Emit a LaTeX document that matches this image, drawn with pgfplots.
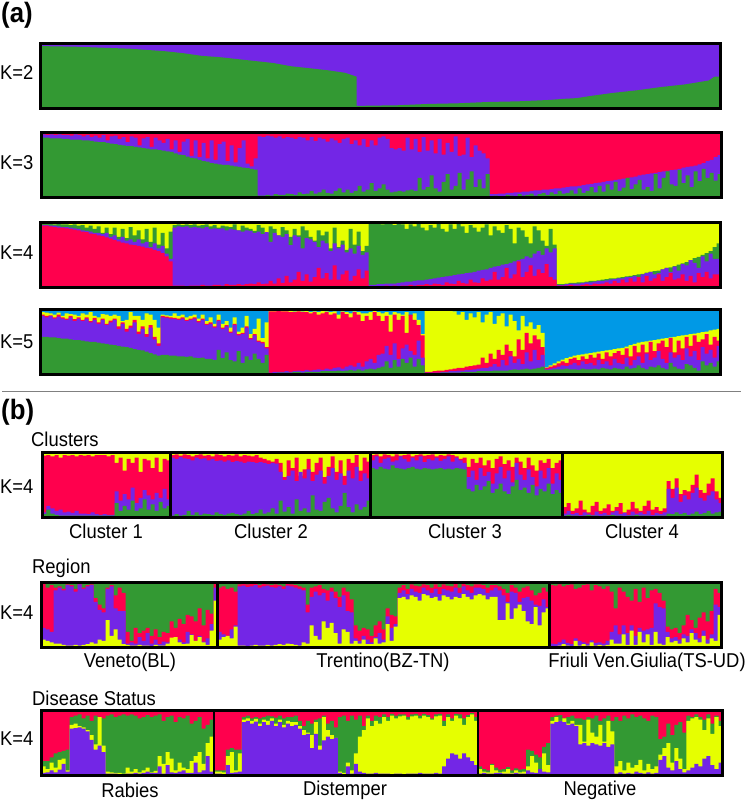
\documentclass[border=0pt]{standalone}
\usepackage{pgfplots}
\usepackage{fontspec}
\setmainfont[FakeStretch=0.92]{Liberation Sans}
\pgfplotsset{compat=1.18}
\definecolor{cg}{RGB}{51,153,51}
\definecolor{cp}{RGB}{115,38,230}
\definecolor{cr}{RGB}{255,0,77}
\definecolor{cy}{RGB}{230,255,0}
\definecolor{cb}{RGB}{0,153,230}
\pgfplotsset{panel/.style={anchor=south west,scale only axis,width=680pt,height=65pt,xmin=0,xmax=170,ymin=0,ymax=100,ticks=none,axis line style={line width=3pt,black},axis on top},
lay/.style={fill=#1,draw=none,const plot,forget plot},
full/.style={fill=#1,draw=none,forget plot},
div/.style={black,line width=2.5pt,forget plot}}
\newcommand\tx[4][center]{\node[inner sep=0pt,anchor=#1] at ({#2},{800-#3}) {\fontsize{20}{22}\selectfont #4};}
\newcommand\bd[3]{\node[inner sep=0pt,anchor=west] at ({#1},{800-#2}) {\fontsize{28}{30}\selectfont\bfseries #3};}
\begin{document}
\begin{tikzpicture}[x=1pt,y=1pt]
\path[use as bounding box] (0,0) rectangle (747,800);
\bd{1}{15}{(a)}
\bd{1}{412}{(b)}
\tx[west]{0}{73}{K=2}
\tx[west]{0}{163}{K=3}
\tx[west]{0}{253}{K=4}
\tx[west]{0}{342}{K=5}
\tx[west]{0}{487}{K=4}
\tx[west]{0}{613}{K=4}
\tx[west]{0}{739}{K=4}
\tx[west]{31}{439}{Clusters}
\tx[west]{32}{568}{Region}
\tx[west]{32}{698}{Disease Status}
\tx{106}{531}{Cluster 1}
\tx{271}{531}{Cluster 2}
\tx{465}{531}{Cluster 3}
\tx{642}{531}{Cluster 4}
\tx{130}{662}{Veneto(BL)}
\tx{383}{662}{Trentino(BZ-TN)}
\tx{647}{662}{Friuli Ven.Giulia(TS-UD)}
\tx{130}{790}{Rabies}
\tx{345}{790}{Distemper}
\tx{600}{790}{Negative}
\draw[gray,line width=1pt] (2,408.5) -- (741,408.5);
% K=2
\begin{axis}[panel,xmax=114,at={(40.5pt,691.5pt)}]
\addplot[full=cp] coordinates {(0,100)(114,100)} \closedcycle;
\addplot[full=cg] coordinates {(0,96)(3,95.5)(6,95)(9,94)(12,93)(15,92)(18,90)(21,88)(24,85)(27,81)(30,79)(33,76)(36,73)(39,70)(42,65)(45,62)(48,59)(51,55)(53,49)(53,4)(60,5)(65,7)(70,8)(75,10)(80,11)(85,13)(88,15)(90,16)(92,19)(96,24)(100,28)(104,33)(108,37)(110,40)(112,43)(113,49)(114,49)} \closedcycle;
\end{axis}
% K=3
\begin{axis}[panel,at={(41.5pt,602.5pt)}]
\addplot[full=cr] coordinates {(0,100)(170,100)} \closedcycle;
\addplot[lay=cp] table[row sep=crcr,x expr=\coordindex,y index=0]{
97\\96\\97\\96\\97\\96\\96\\95\\97\\96\\94\\96\\93\\95\\92\\96\\88\\94\\95\\90\\93\\85\\94\\92\\80\\91\\93\\78\\92\\88\\84\\90\\74\\88\\70\\86\\90\\64\\88\\62\\84\\60\\88\\58\\82\\86\\56\\80\\54\\76\\88\\52\\48\\60\\
94\\93\\95\\94\\92\\94\\91\\93\\92\\90\\93\\92\\88\\93\\87\\92\\90\\86\\91\\88\\84\\90\\92\\82\\88\\80\\90\\78\\88\\80\\92\\94\\90\\
76\\74\\76\\72\\92\\74\\90\\70\\93\\72\\88\\68\\90\\66\\84\\70\\94\\64\\66\\92\\62\\80\\72\\68\\60\\
5\\5\\6\\6\\7\\7\\8\\8\\9\\9\\10\\11\\11\\12\\12\\13\\14\\14\\15\\16\\17\\17\\18\\19\\20\\21\\22\\23\\24\\25\\26\\27\\28\\29\\30\\31\\32\\34\\35\\36\\37\\38\\39\\40\\41\\42\\43\\44\\46\\47\\48\\49\\51\\53\\56\\58\\62\\65\\65\\
} \closedcycle;
\addplot[lay=cg] table[row sep=crcr,x expr=\coordindex,y index=0]{
92\\92\\91\\91\\91\\90\\90\\89\\89\\89\\88\\88\\87\\86\\85\\85\\84\\83\\82\\81\\80\\79\\79\\78\\77\\76\\75\\74\\74\\73\\72\\71\\70\\68\\66\\65\\63\\61\\60\\58\\56\\55\\53\\52\\51\\50\\50\\49\\48\\47\\46\\45\\44\\43\\
3\\3\\4\\3\\5\\4\\4\\6\\5\\4\\8\\5\\6\\10\\6\\8\\12\\7\\6\\10\\14\\8\\12\\7\\10\\18\\9\\12\\22\\10\\14\\20\\12\\
8\\9\\10\\9\\11\\12\\10\\30\\12\\16\\34\\14\\9\\24\\36\\12\\18\\38\\12\\28\\40\\16\\28\\14\\36\\
2\\3\\2\\2\\4\\3\\2\\5\\3\\4\\6\\3\\5\\7\\4\\8\\5\\10\\6\\7\\11\\6\\14\\7\\10\\16\\8\\18\\9\\20\\12\\24\\10\\15\\30\\13\\20\\27\\12\\16\\10\\36\\14\\30\\40\\20\\18\\42\\22\\34\\16\\40\\25\\44\\30\\38\\26\\36\\36\\
} \closedcycle;
\end{axis}
% K=4
\begin{axis}[panel,at={(40.5pt,512.5pt)}]
\addplot[full=cy] coordinates {(0,100)(170,100)} \closedcycle;
\addplot[lay=cg] table[row sep=crcr,x expr=\coordindex,y index=0]{
98\\98\\98\\97\\98\\97\\97\\96\\97\\95\\96\\92\\95\\90\\94\\84\\92\\82\\92\\78\\90\\76\\93\\80\\88\\74\\90\\70\\92\\66\\84\\60\\86\\
96\\97\\96\\97\\96\\97\\95\\96\\97\\94\\96\\92\\95\\94\\93\\97\\88\\95\\92\\90\\87\\96\\92\\84\\94\\90\\80\\93\\88\\78\\90\\80\\94\\88\\78\\72\\88\\80\\86\\60\\92\\62\\72\\58\\90\\66\\86\\56\\64\\
99\\98\\99\\97\\99\\98\\96\\98\\97\\90\\97\\94\\98\\92\\88\\96\\92\\98\\90\\86\\97\\90\\98\\94\\84\\96\\92\\86\\92\\97\\80\\94\\88\\84\\96\\90\\68\\92\\88\\78\\68\\94\\88\\72\\64\\90\\66\\
5\\5\\6\\7\\7\\8\\8\\9\\10\\10\\11\\12\\13\\14\\14\\15\\16\\17\\18\\19\\20\\21\\23\\24\\25\\26\\28\\30\\31\\33\\35\\37\\39\\42\\45\\47\\50\\53\\56\\62\\68\\68\\
} \closedcycle;
\addplot[lay=cp] table[row sep=crcr,x expr=\coordindex,y index=0]{
96\\96\\95\\95\\94\\93\\93\\92\\91\\90\\88\\87\\86\\84\\84\\82\\84\\78\\80\\74\\78\\72\\74\\70\\74\\68\\70\\62\\68\\60\\64\\52\\44\\
92\\94\\93\\94\\92\\93\\92\\91\\93\\90\\91\\90\\91\\88\\90\\89\\88\\86\\88\\87\\84\\86\\82\\85\\70\\84\\80\\78\\82\\65\\80\\78\\60\\76\\74\\70\\62\\72\\68\\56\\68\\60\\66\\54\\60\\52\\64\\50\\54\\
4\\4\\5\\5\\6\\6\\6\\7\\8\\9\\9\\10\\11\\11\\12\\13\\14\\15\\16\\17\\18\\19\\20\\21\\22\\23\\24\\26\\27\\28\\30\\32\\33\\35\\36\\38\\40\\42\\44\\48\\46\\52\\56\\50\\60\\54\\60\\
4\\4\\5\\6\\6\\6\\7\\8\\8\\9\\10\\10\\11\\12\\13\\14\\14\\16\\16\\18\\16\\20\\22\\24\\20\\22\\28\\30\\24\\32\\26\\36\\34\\42\\38\\30\\48\\40\\52\\44\\44\\44\\
} \closedcycle;
\addplot[lay=cr] table[row sep=crcr,x expr=\coordindex,y index=0]{
95\\95\\94\\93\\92\\92\\91\\90\\89\\88\\86\\85\\83\\82\\80\\79\\77\\75\\73\\71\\69\\68\\66\\65\\64\\63\\61\\60\\58\\56\\53\\48\\40\\
3\\3\\3\\2\\3\\3\\3\\4\\3\\3\\4\\4\\3\\5\\4\\4\\5\\4\\5\\6\\5\\8\\5\\6\\10\\6\\14\\7\\18\\8\\12\\24\\10\\20\\9\\16\\30\\14\\22\\12\\34\\12\\20\\26\\10\\18\\28\\14\\26\\
2\\2\\2\\2\\3\\2\\3\\2\\3\\3\\4\\3\\4\\4\\5\\4\\6\\5\\4\\8\\6\\5\\10\\7\\6\\12\\8\\7\\14\\10\\12\\24\\12\\16\\30\\14\\20\\40\\16\\24\\34\\18\\28\\22\\36\\16\\12\\
3\\3\\3\\4\\3\\3\\4\\5\\4\\6\\5\\6\\8\\6\\10\\7\\12\\8\\14\\9\\16\\8\\18\\10\\14\\20\\10\\16\\22\\12\\14\\20\\10\\18\\8\\22\\16\\24\\14\\20\\20\\20\\
} \closedcycle;
\end{axis}
% K=5
\begin{axis}[panel,at={(40.5pt,425.5pt)}]
\addplot[full=cb] coordinates {(0,100)(170,100)} \closedcycle;
\addplot[lay=cy] table[row sep=crcr,x expr=\coordindex,y index=0]{
96\\95\\94\\92\\95\\90\\94\\93\\92\\90\\94\\92\\96\\90\\88\\93\\92\\90\\92\\90\\82\\84\\96\\90\\90\\84\\94\\92\\84\\72\\
92\\91\\90\\94\\90\\92\\88\\90\\92\\86\\92\\82\\88\\78\\92\\78\\82\\72\\88\\66\\72\\90\\62\\70\\86\\56\\80\\
98\\98\\99\\98\\98\\98\\97\\98\\97\\98\\96\\97\\96\\98\\97\\96\\97\\92\\97\\96\\94\\97\\96\\94\\94\\96\\98\\96\\94\\96\\92\\96\\94\\92\\96\\90\\94\\84\\62\\
98\\99\\98\\99\\98\\99\\98\\97\\92\\96\\84\\94\\88\\96\\80\\92\\96\\78\\90\\94\\74\\92\\82\\68\\90\\74\\80\\70\\76\\64\\
11\\14\\17\\20\\23\\25\\27\\29\\30\\31\\32\\33\\34\\35\\36\\37\\38\\39\\40\\41\\43\\45\\47\\49\\50\\51\\52\\53\\54\\55\\56\\57\\58\\59\\60\\61\\62\\63\\64\\65\\66\\68\\69\\70\\70\\
} \closedcycle;
\addplot[lay=cr] table[row sep=crcr,x expr=\coordindex,y index=0]{
92\\90\\91\\88\\92\\88\\86\\90\\85\\88\\84\\88\\82\\87\\80\\86\\78\\83\\86\\74\\80\\70\\75\\84\\66\\74\\62\\76\\58\\48\\
90\\89\\88\\87\\86\\88\\84\\86\\88\\82\\86\\78\\80\\74\\84\\72\\76\\66\\78\\62\\64\\74\\56\\62\\52\\50\\42\\
97\\97\\98\\97\\97\\96\\96\\97\\96\\96\\94\\96\\92\\94\\96\\92\\94\\86\\96\\93\\88\\96\\92\\82\\90\\84\\96\\90\\82\\90\\66\\92\\84\\90\\64\\92\\84\\76\\60\\
4\\4\\5\\6\\6\\7\\8\\9\\10\\10\\12\\13\\14\\15\\26\\18\\32\\24\\38\\30\\46\\36\\28\\54\\38\\64\\48\\60\\54\\42\\
10\\12\\14\\17\\20\\18\\24\\26\\22\\28\\24\\30\\26\\32\\24\\34\\28\\33\\36\\30\\40\\28\\44\\34\\46\\34\\50\\36\\48\\52\\42\\56\\34\\52\\40\\58\\44\\60\\50\\54\\62\\46\\58\\52\\52\\
} \closedcycle;
\addplot[lay=cp] table[row sep=crcr,x expr=\coordindex,y index=0]{
90\\88\\90\\86\\89\\86\\84\\88\\82\\86\\82\\86\\80\\84\\78\\84\\76\\80\\84\\70\\78\\66\\72\\80\\62\\70\\58\\72\\54\\44\\
88\\87\\86\\85\\84\\86\\82\\84\\86\\80\\84\\76\\78\\72\\82\\70\\74\\64\\76\\60\\62\\72\\54\\60\\50\\48\\40\\
3\\4\\4\\4\\5\\4\\5\\6\\5\\7\\6\\7\\8\\7\\9\\8\\10\\11\\9\\12\\14\\12\\18\\12\\20\\24\\18\\30\\32\\44\\30\\48\\24\\40\\46\\36\\30\\52\\26\\
3\\3\\3\\3\\4\\4\\5\\5\\6\\6\\7\\7\\8\\9\\10\\10\\12\\16\\12\\22\\14\\28\\18\\24\\16\\34\\20\\38\\22\\30\\
8\\9\\10\\12\\14\\13\\15\\18\\14\\20\\16\\18\\14\\22\\16\\20\\14\\24\\18\\16\\26\\14\\22\\28\\18\\32\\22\\26\\36\\24\\18\\34\\26\\30\\22\\40\\28\\36\\22\\42\\32\\38\\26\\44\\44\\
} \closedcycle;
\addplot[lay=cg] table[row sep=crcr,x expr=\coordindex,y index=0]{
58\\58\\57\\57\\56\\55\\55\\54\\53\\53\\52\\51\\50\\50\\49\\48\\47\\46\\45\\44\\43\\42\\41\\39\\38\\37\\35\\33\\31\\29\\
30\\30\\29\\29\\28\\28\\27\\28\\26\\25\\26\\24\\24\\22\\38\\25\\34\\22\\20\\36\\18\\28\\22\\32\\24\\18\\30\\
2\\2\\3\\3\\3\\3\\4\\4\\3\\4\\4\\4\\4\\5\\5\\5\\5\\6\\5\\6\\7\\6\\8\\6\\8\\9\\8\\10\\12\\20\\10\\22\\12\\24\\18\\26\\12\\24\\14\\
2\\2\\2\\2\\3\\3\\3\\3\\3\\4\\4\\4\\4\\5\\5\\5\\5\\6\\6\\6\\6\\7\\8\\7\\8\\9\\8\\9\\10\\12\\
7\\7\\8\\8\\8\\9\\8\\8\\7\\9\\8\\8\\9\\8\\10\\9\\8\\10\\9\\8\\12\\9\\10\\14\\10\\8\\12\\11\\14\\10\\8\\18\\12\\9\\8\\16\\14\\10\\6\\20\\14\\18\\12\\20\\20\\
} \closedcycle;
\end{axis}
% Clusters
\begin{axis}[panel,at={(42.5pt,282.5pt)}]
\addplot[full=cy] coordinates {(0,100)(170,100)} \closedcycle;
\addplot[lay=cr] table[row sep=crcr,x expr=\coordindex,y index=0]{
95\\96\\94\\96\\92\\96\\95\\96\\94\\96\\95\\96\\94\\96\\96\\96\\94\\96\\84\\92\\72\\90\\84\\92\\70\\90\\88\\76\\92\\70\\90\\88\\
96\\97\\95\\97\\96\\94\\96\\97\\95\\96\\94\\97\\96\\94\\96\\95\\97\\94\\96\\95\\94\\96\\92\\90\\88\\86\\90\\84\\62\\88\\76\\92\\64\\74\\90\\70\\84\\92\\62\\78\\94\\70\\88\\64\\90\\84\\96\\72\\92\\86\\
96\\97\\94\\97\\96\\94\\97\\95\\96\\97\\94\\96\\97\\95\\96\\97\\94\\96\\95\\97\\96\\94\\90\\92\\78\\90\\84\\92\\80\\88\\76\\90\\94\\82\\88\\78\\92\\86\\76\\92\\80\\72\\88\\84\\90\\76\\84\\88\\
16\\22\\10\\14\\26\\12\\8\\18\\24\\10\\14\\20\\10\\16\\22\\8\\12\\24\\14\\10\\18\\26\\12\\16\\10\\14\\56\\44\\60\\36\\42\\40\\50\\66\\42\\38\\52\\60\\40\\30\\30\\
} \closedcycle;
\addplot[lay=cp] table[row sep=crcr,x expr=\coordindex,y index=0]{
8\\18\\14\\10\\12\\8\\9\\7\\10\\6\\6\\5\\8\\5\\4\\5\\4\\4\\40\\26\\36\\28\\46\\22\\30\\42\\34\\28\\38\\30\\44\\28\\
92\\90\\93\\91\\90\\88\\92\\90\\91\\88\\90\\87\\88\\86\\88\\85\\87\\86\\84\\86\\85\\84\\85\\84\\82\\84\\83\\70\\58\\64\\72\\56\\70\\60\\74\\56\\66\\72\\52\\64\\76\\58\\68\\50\\72\\60\\78\\56\\68\\60\\
88\\94\\84\\90\\92\\86\\88\\94\\90\\86\\92\\88\\94\\85\\90\\88\\92\\87\\90\\94\\86\\92\\88\\84\\62\\72\\58\\76\\64\\70\\52\\68\\78\\60\\72\\54\\84\\66\\58\\74\\62\\48\\72\\60\\76\\52\\68\\58\\
6\\10\\5\\7\\4\\8\\6\\4\\9\\5\\7\\4\\8\\10\\5\\7\\4\\9\\6\\8\\5\\10\\4\\7\\5\\8\\44\\30\\46\\24\\34\\28\\38\\46\\30\\26\\34\\40\\28\\22\\22\\
} \closedcycle;
\addplot[lay=cg] table[row sep=crcr,x expr=\coordindex,y index=0]{
5\\12\\6\\4\\3\\3\\3\\3\\3\\3\\3\\3\\3\\3\\3\\3\\3\\3\\22\\10\\18\\12\\26\\10\\14\\28\\12\\20\\10\\24\\14\\18\\
3\\5\\3\\4\\10\\4\\8\\4\\6\\5\\4\\8\\5\\4\\6\\7\\5\\4\\6\\10\\5\\7\\12\\6\\8\\14\\6\\26\\9\\16\\6\\28\\10\\14\\8\\34\\12\\10\\24\\30\\14\\8\\18\\38\\16\\8\\20\\12\\16\\26\\
76\\74\\78\\75\\74\\80\\76\\75\\74\\76\\78\\75\\74\\76\\75\\74\\75\\76\\74\\75\\74\\76\\75\\74\\44\\40\\50\\42\\48\\56\\38\\44\\52\\40\\36\\48\\58\\42\\46\\38\\50\\34\\44\\40\\52\\36\\42\\38\\
3\\4\\3\\3\\2\\3\\4\\3\\3\\2\\3\\3\\4\\3\\3\\2\\3\\3\\4\\3\\3\\3\\2\\3\\3\\3\\6\\5\\8\\5\\7\\4\\6\\9\\5\\7\\10\\6\\8\\9\\9\\
} \closedcycle;
\addplot[div] coordinates {(32,0)(32,100)};
\addplot[div] coordinates {(82,0)(82,100)};
\addplot[div] coordinates {(130,0)(130,100)};
\end{axis}
% Region
\begin{axis}[panel,at={(41.5pt,152.5pt)}]
\addplot[full=cg] coordinates {(0,100)(170,100)} \closedcycle;
\addplot[lay=cr] table[row sep=crcr,x expr=\coordindex,y index=0]{
98\\92\\96\\92\\94\\90\\97\\96\\90\\98\\92\\96\\97\\76\\66\\60\\92\\96\\80\\92\\84\\24\\10\\30\\22\\26\\30\\18\\28\\16\\24\\22\\40\\30\\44\\36\\50\\48\\40\\60\\34\\58\\52\\98\\
92\\94\\90\\92\\86\\
97\\98\\97\\98\\98\\96\\98\\97\\96\\97\\96\\94\\98\\97\\96\\94\\92\\66\\92\\94\\96\\90\\88\\92\\86\\78\\92\\86\\74\\
34\\26\\30\\28\\18\\34\\40\\28\\60\\50\\48\\
92\\96\\90\\97\\95\\94\\97\\96\\92\\97\\93\\97\\95\\94\\98\\92\\98\\96\\94\\97\\97\\96\\92\\96\\96\\
94\\90\\84\\96\\92\\86\\92\\94\\88\\80\\84\\92\\86\\
96\\95\\97\\94\\96\\97\\90\\92\\96\\97\\88\\96\\94\\90\\94\\86\\60\\
92\\86\\78\\72\\90\\70\\92\\76\\88\\90\\84\\72\\
32\\28\\30\\22\\34\\50\\42\\30\\46\\54\\40\\56\\90\\84\\84\\
} \closedcycle;
\addplot[lay=cp] table[row sep=crcr,x expr=\coordindex,y index=0]{
30\\28\\24\\88\\92\\88\\96\\94\\86\\97\\90\\94\\96\\70\\58\\54\\90\\94\\60\\56\\56\\6\\8\\6\\16\\10\\22\\6\\12\\5\\9\\8\\10\\7\\12\\8\\24\\20\\10\\18\\9\\14\\36\\92\\
24\\20\\18\\28\\34\\
94\\95\\93\\94\\96\\92\\94\\95\\93\\92\\94\\90\\95\\94\\92\\90\\88\\54\\78\\86\\80\\84\\72\\86\\76\\62\\80\\56\\54\\
14\\10\\18\\12\\8\\16\\22\\12\\48\\30\\36\\
84\\88\\82\\90\\86\\84\\92\\88\\84\\90\\82\\90\\88\\86\\92\\84\\94\\88\\84\\92\\92\\90\\84\\88\\92\\
88\\80\\70\\86\\84\\70\\76\\78\\72\\66\\64\\74\\62\\
6\\5\\8\\12\\7\\5\\14\\10\\8\\6\\11\\7\\8\\6\\10\\24\\34\\
20\\34\\22\\34\\18\\30\\26\\28\\30\\68\\62\\60\\
24\\14\\16\\12\\20\\18\\28\\22\\14\\26\\12\\20\\66\\62\\62\\
} \closedcycle;
\addplot[lay=cy] table[row sep=crcr,x expr=\coordindex,y index=0]{
12\\10\\8\\6\\6\\4\\3\\3\\4\\3\\4\\5\\8\\6\\12\\10\\42\\18\\28\\12\\5\\4\\3\\3\\4\\3\\3\\2\\4\\3\\3\\6\\15\\16\\8\\5\\6\\19\\10\\16\\8\\4\\26\\72\\
12\\16\\18\\14\\32\\
3\\3\\2\\3\\4\\3\\3\\4\\3\\4\\5\\4\\6\\5\\4\\3\\8\\6\\34\\18\\12\\40\\30\\38\\22\\6\\28\\24\\6\\
10\\6\\12\\5\\5\\14\\6\\8\\36\\10\\32\\
76\\78\\74\\80\\78\\72\\82\\80\\76\\78\\72\\80\\78\\74\\78\\76\\82\\78\\74\\80\\82\\80\\74\\78\\78\\
42\\42\\68\\44\\60\\66\\56\\40\\36\\62\\34\\54\\60\\
2\\2\\3\\5\\3\\2\\10\\3\\5\\3\\8\\3\\4\\3\\4\\12\\6\\
6\\20\\4\\26\\4\\24\\8\\20\\4\\24\\6\\4\\
16\\8\\10\\6\\14\\8\\22\\12\\8\\18\\6\\14\\10\\50\\50\\
} \closedcycle;
\addplot[div] coordinates {(44,0)(44,100)};
\addplot[div] coordinates {(127,0)(127,100)};
\end{axis}
% Disease
\begin{axis}[panel,at={(41.5pt,24.5pt)},width=681pt]
\addplot[full=cr] coordinates {(0,100)(170,100)} \closedcycle;
\addplot[lay=cg] table[row sep=crcr,x expr=\coordindex,y index=0]{
22\\22\\28\\34\\36\\38\\40\\90\\92\\94\\88\\92\\84\\92\\90\\88\\
92\\94\\90\\92\\94\\92\\94\\92\\88\\90\\93\\90\\92\\94\\84\\90\\92\\82\\90\\88\\92\\80\\84\\90\\72\\78\\86\\
8\\8\\8\\40\\42\\40\\40\\90\\92\\88\\90\\88\\90\\92\\91\\89\\92\\88\\90\\90\\92\\84\\76\\84\\80\\86\\88\\92\\80\\84\\74\\90\\92\\84\\92\\86\\92\\76\\92\\84\\92\\90\\94\\90\\95\\92\\94\\94\\90\\94\\95\\92\\95\\93\\88\\94\\95\\84\\94\\88\\95\\94\\88\\93\\96\\90\\
14\\10\\8\\18\\12\\9\\10\\13\\8\\11\\9\\10\\40\\38\\32\\28\\44\\50\\90\\92\\93\\88\\90\\92\\88\\88\\86\\90\\88\\92\\84\\88\\92\\84\\90\\84\\92\\88\\94\\90\\92\\88\\84\\92\\90\\56\\60\\80\\62\\78\\82\\66\\92\\90\\94\\90\\86\\94\\80\\92\\84\\84\\
} \closedcycle;
\addplot[lay=cy] table[row sep=crcr,x expr=\coordindex,y index=0]{
14\\10\\20\\12\\24\\26\\8\\78\\80\\76\\74\\70\\62\\48\\90\\46\\
6\\5\\4\\4\\3\\12\\6\\10\\5\\8\\12\\5\\7\\30\\18\\36\\26\\8\\20\\12\\10\\22\\30\\36\\18\\50\\60\\
6\\6\\5\\30\\36\\8\\34\\86\\88\\84\\87\\80\\86\\84\\88\\80\\86\\78\\84\\82\\82\\76\\70\\66\\62\\82\\46\\90\\70\\62\\58\\6\\4\\20\\8\\34\\60\\70\\88\\76\\84\\80\\90\\84\\92\\88\\91\\92\\86\\91\\92\\88\\92\\90\\86\\91\\92\\76\\90\\84\\92\\88\\78\\90\\94\\84\\
10\\6\\5\\16\\8\\5\\6\\10\\4\\8\\5\\6\\14\\30\\20\\8\\34\\16\\84\\90\\84\\88\\80\\84\\78\\78\\52\\86\\66\\60\\78\\52\\84\\68\\14\\22\\8\\20\\12\\16\\24\\8\\18\\10\\14\\32\\42\\50\\20\\42\\26\\10\\84\\88\\90\\86\\70\\88\\64\\90\\76\\76\\
} \closedcycle;
\addplot[lay=cp] table[row sep=crcr,x expr=\coordindex,y index=0]{
4\\5\\8\\5\\9\\18\\6\\72\\73\\74\\72\\68\\55\\40\\46\\36\\
3\\3\\3\\2\\2\\3\\3\\4\\3\\4\\6\\4\\4\\14\\3\\16\\5\\4\\6\\8\\4\\4\\20\\5\\8\\30\\6\\
3\\3\\2\\16\\4\\5\\6\\82\\84\\80\\83\\76\\82\\78\\84\\76\\82\\74\\80\\76\\78\\72\\62\\64\\42\\64\\40\\54\\60\\56\\58\\4\\2\\14\\3\\18\\6\\4\\3\\3\\4\\3\\3\\3\\2\\3\\3\\2\\3\\3\\3\\4\\3\\3\\3\\4\\3\\14\\26\\34\\32\\26\\34\\28\\22\\16\\
3\\4\\3\\3\\4\\4\\3\\3\\3\\4\\3\\3\\8\\5\\4\\10\\6\\5\\80\\82\\84\\82\\78\\80\\76\\48\\50\\46\\50\\48\\46\\50\\44\\48\\3\\5\\3\\4\\3\\6\\4\\3\\5\\3\\4\\24\\30\\12\\8\\22\\10\\5\\8\\12\\18\\14\\26\\30\\16\\10\\20\\20\\
} \closedcycle;
\addplot[div] coordinates {(43,0)(43,100)};
\addplot[div] coordinates {(109,0)(109,100)};
\end{axis}
\end{tikzpicture}
\end{document}
